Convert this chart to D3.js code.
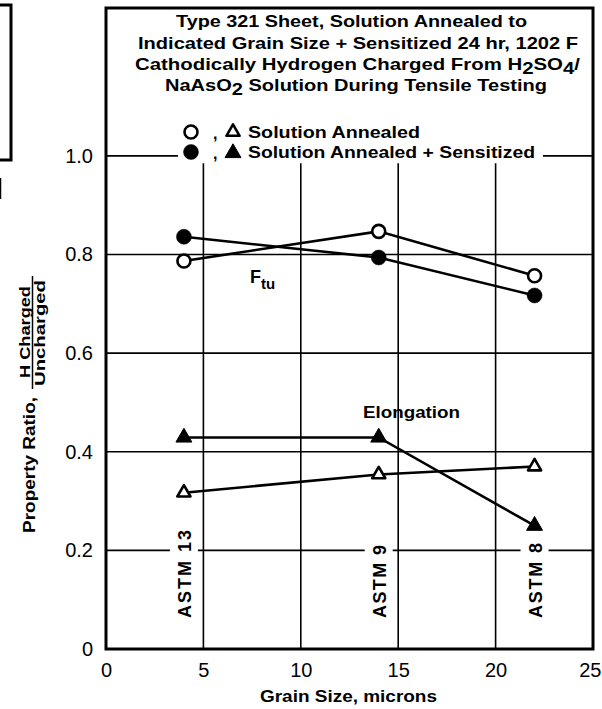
<!DOCTYPE html>
<html>
<head>
<meta charset="utf-8">
<script src="https://cdn.jsdelivr.net/npm/d3@7"></script>
<style>
  html, body { margin: 0; padding: 0; background: #fff; }
  svg { display: block; }
  text { font-family: "Liberation Sans", Arial, sans-serif; fill: #000; }
</style>
</head>
<body>
<svg id="chart" width="602" height="709"></svg>
<script>
// Grain size (microns) of the three heats
const grainSize = [4, 14, 22];
const astmLabels = ["ASTM 13", "ASTM 9", "ASTM 8"];

// Property ratio, H charged / uncharged
const ftuAnnealed = [0.787, 0.847, 0.757];
const ftuSensitized = [0.836, 0.794, 0.717];
const elongAnnealed = [0.317, 0.354, 0.370];
const elongSensitized = [0.429, 0.429, 0.250];

const xTicks = [0, 5, 10, 15, 20, 25];
const yTicks = [0, 0.2, 0.4, 0.6, 0.8, 1.0];

const svg = d3.select("#chart");
const x = d3.scaleLinear().domain([0, 25]).range([106, 593]);
const y = d3.scaleLinear().domain([0, 1.3]).range([649, 8]);

// wide bold text helper: stretches a string to a given width
function boldText(sel, str, size, width) {
  const t = sel.append("text").attr("font-size", size).attr("font-weight", "bold");
  if (str !== null) t.text(str);
  if (width) t.attr("textLength", width).attr("lengthAdjust", "spacingAndGlyphs");
  return t;
}

// fragment of neighbouring panel at the left edge
svg.append("path")
  .attr("d", "M0,5H11V160H0")
  .attr("fill", "none").attr("stroke", "#000").attr("stroke-width", 3);
svg.append("line").attr("x1", 0.5).attr("x2", 0.5).attr("y1", 178).attr("y2", 199)
  .attr("stroke", "#000").attr("stroke-width", 1.5);

const grid = svg.append("g").attr("stroke", "#000").attr("stroke-width", 1.6);

// vertical grid lines
grid.selectAll("line.v").data(xTicks.slice(1, -1)).join("line")
  .attr("x1", d => x(d)).attr("x2", d => x(d))
  .attr("y1", y(0.985)).attr("y2", y(0));

// horizontal grid lines
grid.selectAll("line.h").data(yTicks.slice(1, -1)).join("line")
  .attr("x1", x(0)).attr("x2", x(25))
  .attr("y1", d => y(d)).attr("y2", d => y(d));

// 1.0 line broken by the legend
grid.append("line").attr("x1", x(0)).attr("x2", 178).attr("y1", y(1)).attr("y2", y(1));
grid.append("line").attr("x1", 543).attr("x2", x(25)).attr("y1", y(1)).attr("y2", y(1));

// ASTM labels sit in gaps of the 0.2 line
svg.selectAll("rect.gap").data(grainSize).join("rect")
  .attr("x", d => x(d) - 14).attr("width", 28)
  .attr("y", y(0.2) - 5).attr("height", 10)
  .attr("fill", "#fff");

const astmLen = [88, 73, 75];
svg.selectAll("text.astm").data(grainSize).join("text")
  .attr("transform", d => `translate(${x(d) + 7},${618}) rotate(-90)`)
  .attr("font-size", 18).attr("font-weight", "bold")
  .attr("textLength", (d, i) => astmLen[i]).attr("lengthAdjust", "spacing")
  .text((d, i) => astmLabels[i]);

// data series
const series = [
  { values: ftuAnnealed, shape: "circle", filled: false },
  { values: ftuSensitized, shape: "circle", filled: true },
  { values: elongAnnealed, shape: "triangle", filled: false },
  { values: elongSensitized, shape: "triangle", filled: true }
];

const line = d3.line().x((d, i) => x(grainSize[i])).y(d => y(d));

series.forEach(s => {
  svg.append("path").attr("d", line(s.values))
    .attr("fill", "none").attr("stroke", "#000").attr("stroke-width", 2.6);
});

function marker(g, shape, filled, cx, cy) {
  if (shape === "circle") {
    g.append("circle").attr("cx", cx).attr("cy", cy).attr("r", filled ? 7.5 : 6.5)
      .attr("fill", filled ? "#000" : "#fff")
      .attr("stroke", "#000").attr("stroke-width", filled ? 0.5 : 2.6);
  } else {
    g.append("path")
      .attr("d", d3.symbol(d3.symbolTriangle, filled ? 110 : 75)())
      .attr("transform", `translate(${cx},${cy})`)
      .attr("fill", filled ? "#000" : "#fff")
      .attr("stroke", "#000").attr("stroke-width", filled ? 1 : 2.6)
      .attr("stroke-linejoin", "round");
  }
}

const marks = svg.append("g");
series.forEach(s => {
  s.values.forEach((v, i) => marker(marks, s.shape, s.filled, x(grainSize[i]), y(v)));
});

// plot frame
svg.append("rect")
  .attr("x", x(0)).attr("y", y(1.3))
  .attr("width", x(25) - x(0)).attr("height", y(0) - y(1.3))
  .attr("fill", "none").attr("stroke", "#000").attr("stroke-width", 3);

// axes tick labels
const xAxis = d3.axisBottom(x).tickValues(xTicks).tickSize(0).tickPadding(14).tickFormat(d3.format("d"));
const gx = svg.append("g").attr("transform", `translate(0,${y(0)})`).call(xAxis);
gx.select(".domain").remove();
gx.selectAll("text").attr("font-size", 20).attr("font-family", "Liberation Sans, Arial, sans-serif");
// keep the last label inside the page edge
gx.selectAll(".tick").filter(d => d === 25).select("text")
  .attr("text-anchor", "end").attr("dx", 8);

const yAxis = d3.axisLeft(y).tickValues(yTicks).tickSize(0).tickPadding(13)
  .tickFormat(d => d === 0 ? "0" : d3.format(".1f")(d));
const gy = svg.append("g").attr("transform", `translate(${x(0)},0)`).call(yAxis);
gy.select(".domain").remove();
gy.selectAll("text").attr("font-size", 20).attr("font-family", "Liberation Sans, Arial, sans-serif");

// axis titles
boldText(svg, "Grain Size, microns", 17, 177).attr("x", 260).attr("y", 702);

const yt = svg.append("g");
boldText(yt, "Property Ratio,", 17, 136).attr("transform", "translate(35,533) rotate(-90)");
boldText(yt, "H Charged", 14.5, 92).attr("transform", "translate(30,378) rotate(-90)");
yt.append("line").attr("x1", 32.5).attr("x2", 32.5).attr("y1", 276).attr("y2", 389)
  .attr("stroke", "#000").attr("stroke-width", 1.5);
boldText(yt, "Uncharged", 14.5, 106).attr("transform", "translate(45,386) rotate(-90)");

// title block
const title = svg.append("g");
boldText(title, "Type 321 Sheet, Solution Annealed to", 17, 351).attr("x", 176).attr("y", 27);
boldText(title, "Indicated Grain Size + Sensitized 24 hr, 1202 F", 17, 440).attr("x", 138).attr("y", 49);
const t3 = boldText(title, null, 17, 445).attr("x", 135).attr("y", 70);
t3.append("tspan").text("Cathodically Hydrogen Charged From H");
t3.append("tspan").attr("dy", 4).text("2");
t3.append("tspan").attr("dy", -4).text("SO");
t3.append("tspan").attr("dy", 4).text("4");
t3.append("tspan").attr("dy", -4).text("/");
const t4 = boldText(title, null, 17, 382).attr("x", 165).attr("y", 91);
t4.append("tspan").text("NaAsO");
t4.append("tspan").attr("dy", 4).text("2");
t4.append("tspan").attr("dy", -4).text(" Solution During Tensile Testing");

// legend
const leg = svg.append("g");
marker(leg, "circle", false, 191, 132);
marker(leg, "circle", true, 191, 152);
marker(leg, "triangle", false, 233, 132);
marker(leg, "triangle", true, 233, 153);
boldText(leg, ",", 16).attr("x", 213).attr("y", 139);
boldText(leg, ",", 16).attr("x", 213).attr("y", 159);
boldText(leg, "Solution Annealed", 17, 172).attr("x", 248).attr("y", 138);
boldText(leg, "Solution Annealed + Sensitized", 17, 287).attr("x", 248).attr("y", 158);

// curve labels
const ftu = boldText(svg, null, 18).attr("x", 250).attr("y", 283);
ftu.append("tspan").text("F");
ftu.append("tspan").attr("dy", 6).attr("font-size", 15).text("tu");

boldText(svg, "Elongation", 17, 97).attr("x", 363).attr("y", 418);
</script>
</body>
</html>
